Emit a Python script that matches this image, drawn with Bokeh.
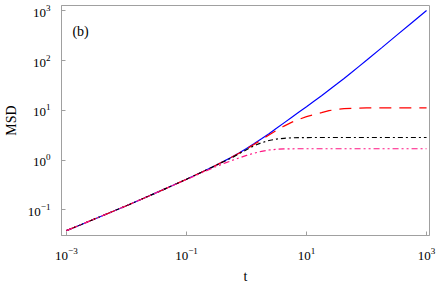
from bokeh.plotting import figure
from bokeh.models import FixedTicker, Range1d, Label
from bokeh.embed import file_html
from bokeh.resources import INLINE

# time grid
t = [0.001, 0.00178, 0.00316, 0.00562, 0.01, 0.0178, 0.0316, 0.0562, 0.1, 0.178,
     0.316, 0.422, 0.562, 0.75, 1.0, 1.33, 1.78, 2.37, 3.16, 4.22,
     5.62, 7.5, 10, 13.3, 17.8, 23.7, 31.6, 42.2, 56.2, 75,
     100, 178, 316, 562, 1000]

msd_blue = [0.0383, 0.0511, 0.0681, 0.0908, 0.1216, 0.1641, 0.2223, 0.3027, 0.414, 0.5715,
            0.798, 0.957, 1.148, 1.396, 1.718, 2.138, 2.692, 3.412, 4.365, 5.623,
            7.244, 9.29, 11.89, 15.31, 19.72, 25.7, 33.5, 43.95, 57.81, 76.74,
            101.9, 181.1, 322.1, 572.8, 1019]

msd_red = [0.0383, 0.0511, 0.0681, 0.0908, 0.1216, 0.1641, 0.2223, 0.3027, 0.414, 0.5715,
           0.798, 0.955, 1.143, 1.38, 1.679, 2.065, 2.57, 3.199, 3.981, 4.842,
           5.754, 6.637, 7.499, 8.279, 9.036, 9.886, 10.47, 10.84, 11.02, 11.17,
           11.25, 11.3, 11.3, 11.3, 11.3]

msd_black = [0.0383, 0.0511, 0.0681, 0.0908, 0.1216, 0.1641, 0.2223, 0.3027, 0.414, 0.5715,
             0.794, 0.944, 1.109, 1.349, 1.622, 1.95, 2.239, 2.483, 2.661, 2.754,
             2.812, 2.838, 2.851, 2.858, 2.858, 2.858, 2.858, 2.858, 2.858, 2.858,
             2.858, 2.858, 2.858, 2.858, 2.858]

msd_magenta = [0.0383, 0.0511, 0.0681, 0.0908, 0.1216, 0.1641, 0.2223, 0.3027, 0.4074, 0.5559,
               0.7499, 0.861, 0.9772, 1.109, 1.245, 1.38, 1.507, 1.603, 1.656, 1.683,
               1.694, 1.698, 1.698, 1.698, 1.698, 1.698, 1.698, 1.698, 1.698, 1.698,
               1.698, 1.698, 1.698, 1.698, 1.698]

x_ticks = [1e-3, 1e-1, 1e1, 1e3]
y_ticks = [1e-1, 1e0, 1e1, 1e2, 1e3]
panel_label = "(b)"

FONT = "Liberation Serif"
GRAY = "#a0a0a0"

p = figure(width=436, height=286, x_axis_type="log", y_axis_type="log",
           x_range=Range1d(10 ** -3.082, 10 ** 3.049),
           y_range=Range1d(10 ** -1.514, 10 ** 3.109),
           output_backend="svg", toolbar_location=None,
           min_border_left=57, min_border_right=7, min_border_top=5, min_border_bottom=47)

p.grid.visible = False
p.background_fill_color = "white"
p.border_fill_color = "white"
p.outline_line_color = GRAY
p.outline_line_width = 1

p.line(t, msd_blue, line_color="#0000ff", line_width=1.2)
p.line(t, msd_red, line_color="#ff0000", line_width=1.2, line_dash="12 8")
p.line(t, msd_black, line_color="#000000", line_width=1.2, line_dash="5 3 2 3")
p.line(t, msd_magenta, line_color="#ff1482", line_width=1.2, line_dash="6 3 2 3 2 3")

p.xaxis.ticker = FixedTicker(ticks=x_ticks, minor_ticks=[])
p.yaxis.ticker = FixedTicker(ticks=y_ticks, minor_ticks=[])

for ax in (p.xaxis[0], p.yaxis[0]):
    ax.axis_line_color = GRAY
    ax.major_tick_line_color = GRAY
    ax.major_tick_in = 4
    ax.major_tick_out = 0
    ax.minor_tick_line_color = None
    ax.major_label_text_font = FONT
    ax.major_label_text_font_size = "13px"
    ax.major_label_text_color = "black"
    ax.axis_label_text_font = FONT
    ax.axis_label_text_font_size = "14px"
    ax.axis_label_text_font_style = "normal"
    ax.axis_label_text_color = "black"

p.xaxis.axis_label = "t"
p.yaxis.axis_label = "MSD"
p.xaxis.major_label_standoff = 12
p.yaxis.major_label_standoff = 11
p.xaxis.axis_label_standoff = 6
p.yaxis.axis_label_standoff = 6

p.add_layout(Label(x=1.26e-3, y=381, text=panel_label, text_font=FONT,
                   text_font_size="14px", text_baseline="middle", text_align="left",
                   text_color="black"))

open("out.html", "w").write(file_html(p, INLINE))
